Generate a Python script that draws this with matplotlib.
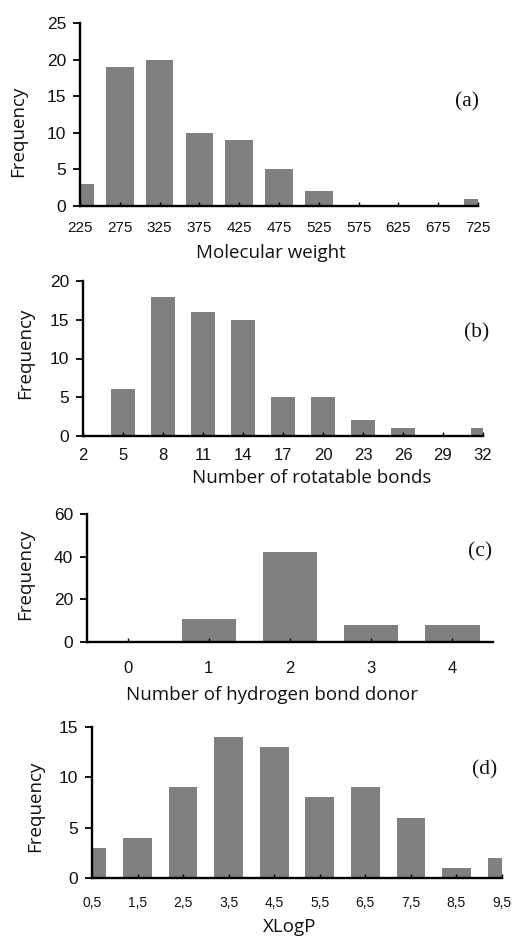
import matplotlib
matplotlib.use("Agg")
import matplotlib.pyplot as plt

# panel (a) - molecular weight
mw_bins = [225, 275, 325, 375, 425, 475, 525, 575, 625, 675, 725]
mw_freq = [3, 19, 20, 10, 9, 5, 2, 0, 0, 0, 1]

# panel (b) - rotatable bonds
rb_bins = [2, 5, 8, 11, 14, 17, 20, 23, 26, 29, 32]
rb_freq = [0, 6, 18, 16, 15, 5, 5, 2, 1, 0, 1]

# panel (c) - hydrogen bond donors
hbd_bins = ["0", "1", "2", "3", "4"]
hbd_freq = [0, 11, 42, 8, 8]

# panel (d) - XLogP
xlogp_bins = ["0,5", "1,5", "2,5", "3,5", "4,5", "5,5", "6,5", "7,5", "8,5", "9,5"]
xlogp_freq = [3, 4, 9, 14, 13, 8, 9, 6, 1, 2]

W, H = 513, 939
BAR = "#808080"
TICKFONT = "Liberation Sans"
LABFONT = "Open Sans"
LABSIZE = 13.5

fig = plt.figure(figsize=(W / 100, H / 100), dpi=100)


def px(x, y):
    return x / W, 1 - y / H


def make_ax(left, top, right, bottom):
    ax = fig.add_axes([left / W, 1 - bottom / H, (right - left) / W, (bottom - top) / H])
    for s in ["top", "right"]:
        ax.spines[s].set_visible(False)
    for s in ["left", "bottom"]:
        ax.spines[s].set_linewidth(1.7)
    ax.tick_params(axis="y", direction="out", length=5, width=1.3, pad=5,
                   labelsize=12.5)
    ax.tick_params(axis="x", direction="in", length=3, width=1.0)
    return ax


def style_ticks(ax):
    for t in ax.get_xticklabels() + ax.get_yticklabels():
        t.set_fontfamily(TICKFONT)
        t.set_color("#111111")


def labels(ax_xlab, ax_ylab, tag):
    (x, y), s = ax_xlab
    fig.text(*px(x, y), s, ha="center", va="center", fontsize=LABSIZE,
             family=LABFONT, color="#111111")
    x, y = ax_ylab
    fig.text(*px(x, y), "Frequency", ha="center", va="center", rotation=90,
             fontsize=LABSIZE, family=LABFONT, color="#111111")
    (x, y), s = tag
    fig.text(*px(x, y), s, ha="center", va="center", fontsize=15.5,
             family="Liberation Serif", color="#111111")


# (a)
ax = make_ax(80, 23, 478, 206)
ax.bar(range(len(mw_bins)), mw_freq, width=0.69, color=BAR)
ax.set_xlim(0, len(mw_bins) - 1)
ax.set_ylim(0, 25)
ax.set_yticks([0, 5, 10, 15, 20, 25])
ax.set_xticks(range(len(mw_bins)))
ax.set_xticklabels([str(v) for v in mw_bins])
ax.tick_params(axis="x", pad=11, labelsize=11)
style_ticks(ax)
labels(((271, 253), "Molecular weight"), (18, 131), ((467, 102), "(a)"))

# (b)
ax = make_ax(83, 281, 483, 436)
ax.bar(range(len(rb_bins)), rb_freq, width=0.62, color=BAR)
ax.set_xlim(0, len(rb_bins) - 1)
ax.set_ylim(0, 20)
ax.set_yticks([0, 5, 10, 15, 20])
ax.set_xticks(range(len(rb_bins)))
ax.set_xticklabels([str(v) for v in rb_bins])
ax.tick_params(axis="x", pad=9, labelsize=12)
style_ticks(ax)
labels(((312, 478), "Number of rotatable bonds"), (25, 353), ((477, 333), "(b)"))

# (c)
ax = make_ax(87, 514, 493, 642)
ax.bar(range(len(hbd_bins)), hbd_freq, width=0.67, color=BAR)
ax.set_xlim(-0.5, len(hbd_bins) - 0.5)
ax.set_ylim(0, 60)
ax.set_yticks([0, 20, 40, 60])
ax.set_xticks(range(len(hbd_bins)))
ax.set_xticklabels(hbd_bins)
ax.tick_params(axis="x", pad=14, labelsize=12)
style_ticks(ax)
labels(((272, 695), "Number of hydrogen bond donor"), (25, 574), ((480, 552), "(c)"))

# (d)
ax = make_ax(92, 727, 502, 878)
ax.bar(range(len(xlogp_bins)), xlogp_freq, width=0.63, color=BAR)
ax.set_xlim(0, len(xlogp_bins) - 1)
ax.set_ylim(0, 15)
ax.set_yticks([0, 5, 10, 15])
ax.set_xticks(range(len(xlogp_bins)))
ax.set_xticklabels(xlogp_bins)
ax.tick_params(axis="x", pad=13, labelsize=10)
style_ticks(ax)
labels(((290, 927), "XLogP"), (35, 806), ((485, 770), "(d)"))

fig.savefig("out.png", dpi=100)
